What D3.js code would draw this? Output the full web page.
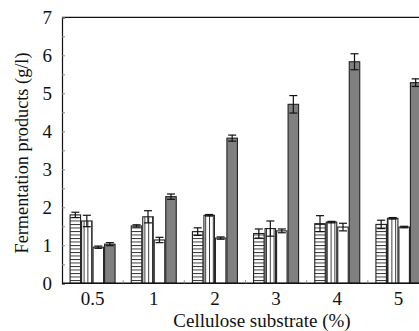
<!DOCTYPE html>
<html><head><meta charset="utf-8">
<script src="https://cdn.jsdelivr.net/npm/d3@7"></script>
<style>
html,body{margin:0;padding:0;background:#fff;overflow:hidden;}
text{font-family:"Liberation Serif","Times New Roman",serif;fill:#111;}
</style></head>
<body>
<svg id="c" width="419" height="331"></svg>
<script>
const categories = ["0.5","1","2","3","4","5"];
const seriesKeys = ["s1","s2","s3","s4"];
const s1 = [1.80,1.51,1.36,1.31,1.57,1.55];
const s1Err = [0.07,0.03,0.10,0.12,0.21,0.11];
const s2 = [1.64,1.75,1.79,1.44,1.61,1.71];
const s2Err = [0.15,0.16,0.02,0.20,0.02,0.02];
const s3 = [0.95,1.14,1.19,1.38,1.48,1.48];
const s3Err = [0.03,0.07,0.03,0.05,0.10,0.02];
const s4 = [1.03,2.28,3.82,4.71,5.83,5.28];
const s4Err = [0.04,0.07,0.08,0.23,0.21,0.10];
const yTicks = [0,0.5,1,1.5,2,2.5,3,3.5,4,4.5,5,5.5,6,6.5,7];
const xTitle = "Cellulose substrate (%)";
const yTitle = "Fermentation products (g/l)";

const values = [s1,s2,s3,s4];
const errs = [s1Err,s2Err,s3Err,s4Err];
const fills = ["url(#hstripe)","url(#vstripe)","#ffffff","#808080"];

const svg = d3.select("#c");
const defs = svg.append("defs");
const ph = defs.append("pattern").attr("id","hstripe").attr("patternUnits","userSpaceOnUse")
  .attr("width",6).attr("height",3.5);
ph.append("rect").attr("width",6).attr("height",3.5).attr("fill","#fff");
ph.append("line").attr("x1",0).attr("x2",6).attr("y1",0.5).attr("y2",0.5).attr("stroke","#222").attr("stroke-width",0.9);
const pv = defs.append("pattern").attr("id","vstripe").attr("patternUnits","userSpaceOnUse")
  .attr("width",3.8).attr("height",6);
pv.append("rect").attr("width",3.8).attr("height",6).attr("fill","#fff");
pv.append("line").attr("x1",0.5).attr("x2",0.5).attr("y1",0).attr("y2",6).attr("stroke","#222").attr("stroke-width",0.9);

const pLeft = 62, pRight = 429, pTop = 17.3, pBottom = 283.3;
const x = d3.scaleBand().domain(categories).range([pLeft, pRight]).padding(0);
const x1 = d3.scaleBand().domain(seriesKeys).range([0, x.bandwidth()]).paddingInner(0).paddingOuter(0.66);
const y = d3.scaleLinear().domain([0,7]).range([pBottom, pTop]);

// frame
svg.append("line").attr("x1",pLeft).attr("x2",419).attr("y1",pTop).attr("y2",pTop).attr("stroke","#111").attr("stroke-width",1.2);

// bars
const g = svg.append("g");
categories.forEach((c,i)=>{
  seriesKeys.forEach((k,j)=>{
    const v = values[j][i];
    g.append("rect")
      .attr("x", x(c)+x1(k)+0.5)
      .attr("y", y(v))
      .attr("width", x1.bandwidth()-1)
      .attr("height", y(0)-y(v))
      .attr("fill", fills[j])
      .attr("stroke","#222").attr("stroke-width",1.1);
  });
});
// error bars
categories.forEach((c,i)=>{
  seriesKeys.forEach((k,j)=>{
    const v = values[j][i], e = errs[j][i];
    const cx = x(c)+x1(k)+x1.bandwidth()/2;
    const eg = g.append("g").attr("stroke","#111").attr("stroke-width",1.2);
    eg.append("line").attr("x1",cx).attr("x2",cx).attr("y1",y(v+e)).attr("y2",y(v-e));
    eg.append("line").attr("x1",cx-4).attr("x2",cx+4).attr("y1",y(v+e)).attr("y2",y(v+e));
    eg.append("line").attr("x1",cx-4).attr("x2",cx+4).attr("y1",y(v-e)).attr("y2",y(v-e));
  });
});

// y axis
const yAxis = d3.axisLeft(y).tickValues(yTicks).tickSize(-3).tickPadding(10)
  .tickFormat(d => Number.isInteger(d) ? String(d) : "");
const ya = svg.append("g").attr("transform",`translate(${pLeft},0)`).call(yAxis);
ya.select(".domain").attr("stroke","#111").attr("stroke-width",1.2);
ya.selectAll(".tick line").attr("stroke","#888");
ya.selectAll(".tick text").attr("font-size",19).attr("fill","#111");

// x axis
const xAxis = d3.axisBottom(x).tickSize(0).tickPadding(0);
const xa = svg.append("g").attr("transform",`translate(0,${pBottom})`).call(xAxis);
xa.select(".domain").remove();
xa.selectAll(".tick text").attr("font-size",19).attr("y",22).attr("dy",null).attr("fill","#111");
svg.append("line").attr("x1",pLeft).attr("x2",419).attr("y1",pBottom).attr("y2",pBottom).attr("stroke","#111").attr("stroke-width",1.5);
// x minor ticks at band boundaries
svg.append("g").selectAll("line").data(categories.slice(1)).join("line")
  .attr("x1",d=>x(d)).attr("x2",d=>x(d)).attr("y1",pBottom).attr("y2",pBottom-3)
  .attr("stroke","#888");

// titles
svg.append("text").attr("x",262).attr("y",327).attr("text-anchor","middle").attr("font-size",19).text(xTitle);
svg.append("text").attr("transform","translate(28,153) rotate(-90)").attr("text-anchor","middle").attr("font-size",18.3).text(yTitle);
</script>
</body></html>
